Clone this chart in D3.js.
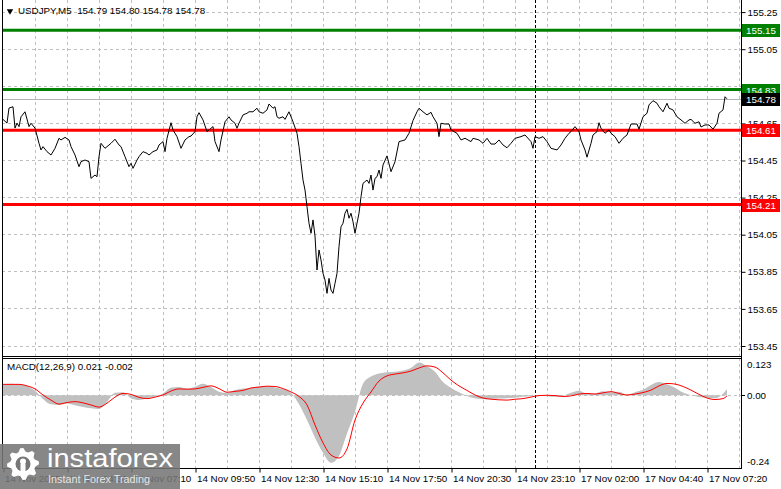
<!DOCTYPE html>
<html><head><meta charset="utf-8">
<script src="https://cdn.jsdelivr.net/npm/d3@7"></script>
<style>
html,body{margin:0;padding:0;background:#fff;}
svg{display:block;}
text{font-family:"Liberation Sans",Arial,sans-serif;}
</style></head>
<body>
<svg id="chart" width="781" height="489"></svg>
<script>
// ---------------- DATA ----------------
const symbolTitle = "USDJPY,M5  154.79 154.80 154.78 154.78";
const macdTitle = "MACD(12,26,9) 0.021 -0.002";

const timeLabels = ["14 Nov 2025","14 Nov 04:30","14 Nov 07:10","14 Nov 09:50","14 Nov 12:30","14 Nov 15:10","14 Nov 17:50","14 Nov 20:30","14 Nov 23:10","17 Nov 02:00","17 Nov 04:40","17 Nov 07:20"];
const labelBars = [0,32,64,96,128,160,192,224,256,288,320,352];
const gridStepBars = 16;
const daySeparatorBar = 266;

const priceTicks = [155.25,155.05,154.85,154.65,154.45,154.25,154.05,153.85,153.65,153.45];
const levelPrices = [155.15,154.83,154.61,154.21];
const levelKinds  = ["resistance","resistance","support","support"];
const lastPrice = 154.78;

const closeBars = [0,2,3,5,6,7,8,9,11,13,14,16,18,19,20,22,24,26,28,29,31,33,34,36,38,39,41,43,44,46,47,48,49,51,53,54,56,58,59,61,63,64,65,67,68,70,72,73,75,77,78,80,81,82,84,85,87,89,91,93,94,96,97,98,100,102,103,105,106,108,109,111,113,114,116,117,118,120,122,123,125,127,128,130,132,133,135,136,137,138,140,141,143,145,147,148,149,150,151,152,153,154,155,156,157,158,159,160,161,162,163,164,165,166,167,168,169,170,171,172,173,174,175,176,178,179,180,182,183,184,185,186,187,188,189,190,192,194,196,198,201,203,205,207,208,210,212,214,215,217,218,219,221,223,224,227,229,231,234,235,238,240,242,244,246,248,250,252,254,256,259,261,264,265,266,268,270,272,274,277,279,281,283,284,286,288,289,291,292,294,295,297,298,299,301,303,304,306,308,310,312,314,317,318,320,322,323,325,327,328,330,332,333,335,337,339,341,343,344,346,348,349,351,353,355,357,358,360,361,362];
const closes = [154.669,154.649,154.730,154.737,154.622,154.649,154.630,154.683,154.710,154.630,154.648,154.622,154.540,154.504,154.522,154.495,154.477,154.513,154.567,154.558,154.572,154.558,154.522,154.477,154.414,154.441,154.450,154.441,154.351,154.369,154.360,154.468,154.540,154.513,154.531,154.540,154.562,154.531,154.522,154.468,154.414,154.432,154.405,154.450,154.468,154.495,154.486,154.477,154.495,154.504,154.531,154.549,154.495,154.567,154.651,154.612,154.576,154.513,154.558,154.576,154.579,154.603,154.683,154.705,154.666,154.603,154.612,154.630,154.549,154.495,154.558,154.656,154.683,154.666,154.648,154.621,154.648,154.693,154.702,154.710,154.710,154.729,154.710,154.702,154.720,154.752,154.729,154.737,154.683,154.675,154.683,154.669,154.710,154.656,154.594,154.522,154.432,154.342,154.288,154.198,154.109,154.055,154.127,154.040,153.857,153.965,153.911,153.839,153.803,153.731,153.812,153.749,153.731,153.785,153.839,153.983,154.090,154.109,154.163,154.184,154.136,154.163,154.117,154.055,154.163,154.252,154.324,154.342,154.324,154.369,154.288,154.351,154.360,154.396,154.351,154.423,154.472,154.387,154.441,154.549,154.558,154.594,154.663,154.710,154.729,154.710,154.693,154.707,154.683,154.648,154.576,154.648,154.644,154.644,154.612,154.594,154.558,154.567,154.549,154.567,154.558,154.540,154.567,154.536,154.536,154.558,154.531,154.516,154.540,154.567,154.576,154.585,154.549,154.513,154.576,154.567,154.576,154.549,154.513,154.504,154.531,154.567,154.594,154.603,154.630,154.603,154.558,154.504,154.465,154.540,154.585,154.603,154.651,154.621,154.594,154.612,154.594,154.576,154.540,154.567,154.585,154.644,154.644,154.616,154.683,154.702,154.747,154.770,154.756,154.737,154.710,154.756,154.729,154.720,154.683,154.666,154.648,154.666,154.669,154.648,154.656,154.628,154.639,154.639,154.616,154.648,154.702,154.720,154.791,154.780];

const macdBars = d3.range(0, 361, 4).concat([362]);
const macdHist = [0.035,0.038,0.036,0.030,0.015,-0.012,-0.030,-0.032,-0.027,-0.033,
-0.039,-0.043,-0.045,-0.022,0.008,0.010,-0.010,-0.016,-0.010,-0.004,
0.006,0.025,0.027,0.022,0.028,0.038,0.027,0.012,0.008,0.017,
0.022,0.025,0.029,0.030,0.026,0.020,0.008,-0.030,-0.082,-0.140,
-0.190,-0.223,-0.200,-0.126,-0.055,0.038,0.062,0.072,0.076,0.078,
0.082,0.090,0.108,0.096,0.078,0.044,0.025,0.010,-0.002,-0.010,
-0.013,-0.012,-0.011,-0.010,-0.008,-0.005,-0.003,0.000,-0.003,-0.005,
-0.002,0.008,0.015,0.005,0.006,0.013,0.010,0.012,0.002,0.010,
0.018,0.034,0.044,0.036,0.025,0.009,0.000,-0.006,-0.009,-0.010,
0.005,0.021];
const macdSignal = [0.036,0.036,0.036,0.031,0.021,0.001,-0.016,-0.029,-0.024,-0.021,
-0.025,-0.032,-0.039,-0.026,-0.006,0.006,0.003,-0.007,-0.011,-0.006,
0.001,0.014,0.021,0.020,0.021,0.026,0.031,0.022,0.010,0.013,
0.016,0.024,0.027,0.030,0.029,0.022,0.011,-0.004,-0.032,-0.098,
-0.157,-0.197,-0.207,-0.177,-0.082,-0.026,0.011,0.047,0.064,0.070,
0.074,0.080,0.090,0.097,0.093,0.074,0.050,0.031,0.016,0.001,
-0.009,-0.013,-0.015,-0.016,-0.013,-0.011,-0.006,-0.001,0.000,-0.001,
-0.004,-0.002,0.004,0.006,0.004,0.008,0.012,0.006,0.001,0.004,
0.009,0.017,0.031,0.039,0.037,0.029,0.017,0.003,-0.009,-0.014,
-0.011,-0.002];
const macdTicks = [0.123, 0.00, -0.24];

// ---------------- LAYOUT ----------------
const svg = d3.select("#chart");
const L = 2, R = 741;
const mainTop = 0, mainBottom = 356;
const macdTop = 358, macdBottom = 468;
const x = d3.scaleLinear().domain([0, 369]).range([3, 741]);
const y = d3.scaleLinear().domain([153.45, 155.25]).range([345.5, 11.6]);
const ym = d3.scaleLinear().domain([-0.24, 0.123]).range([macdBottom, macdTop]);
const gridColor = "#c0c0c0";
const fontSize = 9.8;
const kindColor = {resistance: "#008000", support: "#ff0000"};

svg.append("rect").attr("width",781).attr("height",489).attr("fill","#fff");

svg.append("clipPath").attr("id","cmain").append("rect")
  .attr("x",L).attr("y",mainTop).attr("width",R-L).attr("height",mainBottom-mainTop);
svg.append("clipPath").attr("id","cmacd").append("rect")
  .attr("x",L).attr("y",macdTop).attr("width",R-L).attr("height",macdBottom-macdTop);

// vertical grid
const gridBars = d3.range(gridStepBars, 369, gridStepBars);
[[mainTop,mainBottom],[macdTop,macdBottom]].forEach(([t,b])=>{
  svg.append("g").selectAll("line").data(gridBars).join("line")
    .attr("x1",d=>Math.round(x(d))+0.5).attr("x2",d=>Math.round(x(d))+0.5)
    .attr("y1",t).attr("y2",b)
    .attr("stroke",gridColor).attr("stroke-dasharray","3,3");
});
svg.append("g").selectAll("line").data(priceTicks).join("line")
  .attr("x1",L).attr("x2",R).attr("y1",d=>Math.round(y(d))+0.5).attr("y2",d=>Math.round(y(d))+0.5)
  .attr("stroke",gridColor).attr("stroke-dasharray","3,3");
svg.append("line").attr("x1",L).attr("x2",R)
  .attr("y1",Math.round(ym(0))+0.5).attr("y2",Math.round(ym(0))+0.5)
  .attr("stroke",gridColor).attr("stroke-dasharray","3,3");

// day separator
svg.append("line").attr("x1",Math.round(x(daySeparatorBar))+0.5).attr("x2",Math.round(x(daySeparatorBar))+0.5)
  .attr("y1",mainTop).attr("y2",macdBottom)
  .attr("stroke","#000").attr("stroke-dasharray","3,2");

// last price line
svg.append("line").attr("x1",L).attr("x2",R)
  .attr("y1",Math.round(y(lastPrice))+0.5).attr("y2",Math.round(y(lastPrice))+0.5)
  .attr("stroke","#b4b4b4").attr("stroke-width",1);

const gMain = svg.append("g").attr("clip-path","url(#cmain)");
gMain.selectAll("line.level").data(levelPrices).join("line").attr("class","level")
  .attr("x1",L).attr("x2",R).attr("y1",d=>y(d)).attr("y2",d=>y(d))
  .attr("stroke",(d,i)=>kindColor[levelKinds[i]]).attr("stroke-width",3);

const pts = closeBars.map((b,i)=>[b, closes[i]]);
gMain.append("path").datum(pts)
  .attr("d", d3.line().x(d=>x(d[0])).y(d=>y(d[1])))
  .attr("fill","none").attr("stroke","#000").attr("stroke-width",1);

// MACD histogram as filled area
const gMacd = svg.append("g").attr("clip-path","url(#cmacd)");
gMacd.append("path").datum(macdBars.map((b,i)=>[b, macdHist[i]]))
  .attr("d", d3.area().x(d=>x(d[0])).y0(ym(0)).y1(d=>ym(d[1])).curve(d3.curveMonotoneX))
  .attr("fill","#c0c0c0");
gMacd.append("path").datum(macdBars.map((b,i)=>[b, macdSignal[i]]))
  .attr("d", d3.line().x(d=>x(d[0])).y(d=>ym(d[1])).curve(d3.curveMonotoneX))
  .attr("fill","none").attr("stroke","#ff0000").attr("stroke-width",1);

// borders
const border = svg.append("g").attr("stroke","#000").attr("stroke-width",1).attr("fill","none");
border.append("line").attr("x1",L+0.5).attr("x2",L+0.5).attr("y1",0).attr("y2",macdBottom);
border.append("line").attr("x1",R+0.5).attr("x2",R+0.5).attr("y1",0).attr("y2",macdBottom+0.5);
border.append("line").attr("x1",L).attr("x2",R).attr("y1",mainBottom+0.5).attr("y2",mainBottom+0.5);
border.append("line").attr("x1",L).attr("x2",R).attr("y1",macdTop+0.5).attr("y2",macdTop+0.5);
border.append("line").attr("x1",L).attr("x2",R+1).attr("y1",macdBottom+0.5).attr("y2",macdBottom+0.5);

// price axis
const pAxis = svg.append("g").attr("transform",`translate(${R+0.5},0.5)`)
  .call(d3.axisRight(y).tickValues(priceTicks).tickFormat(d3.format(".2f")).tickSize(4).tickPadding(2));
pAxis.select(".domain").remove();
pAxis.selectAll("text").attr("font-size",fontSize).attr("font-family","Liberation Sans, Arial").attr("fill","#000");

// level labels
const boxH = 13;
const labelData = levelPrices.map((p,i)=>({p, c:kindColor[levelKinds[i]]})).concat([{p:lastPrice, c:"#000"}]);
const lg = svg.append("g");
labelData.forEach(d=>{
  const yy = Math.round(y(d.p));
  lg.append("rect").attr("x",R+1).attr("y",yy-6).attr("width",38).attr("height",boxH).attr("fill",d.c);
  lg.append("text").attr("x",R+5).attr("y",yy+4).attr("fill","#fff")
    .attr("font-size",fontSize).text(d3.format(".2f")(d.p));
});

// macd axis
macdTicks.forEach((v,i)=>{
  let yy = ym(v);
  let ty = yy + 4;
  if (i===0) ty = yy + 10;
  if (i===macdTicks.length-1) ty = yy - 3;
  if (v===0) svg.append("line").attr("x1",R).attr("x2",R+4).attr("y1",Math.round(yy)+0.5).attr("y2",Math.round(yy)+0.5).attr("stroke","#000");
  svg.append("text").attr("x",R+6).attr("y",ty).attr("font-size",fontSize).attr("fill","#000")
    .text(v===0 ? "0.00" : (Math.abs(v)>=0.1 && String(v).length>5 ? d3.format(".3f")(v) : String(v)));
});

// time axis
const tAxis = svg.append("g").attr("transform",`translate(0.5,${macdBottom+0.5})`)
  .call(d3.axisBottom(x).tickValues(labelBars).tickFormat((d,i)=>timeLabels[i]).tickSize(4).tickPadding(3));
tAxis.select(".domain").remove();
tAxis.selectAll("text").attr("text-anchor","start").attr("dx",1)
  .attr("font-size",fontSize).attr("font-family","Liberation Sans, Arial").attr("fill","#000");

// titles
svg.append("path").attr("d",d3.symbol().type(d3.symbolTriangle).size(18)())
  .attr("transform","translate(10,11) rotate(180)").attr("fill","#000");
svg.append("text").attr("x",18).attr("y",14).attr("font-size",fontSize).attr("fill","#000")
  .attr("xml:space","preserve").text(symbolTitle);
svg.append("text").attr("x",7).attr("y",370).attr("font-size",fontSize).attr("fill","#000").text(macdTitle);

// watermark
const wm = svg.append("g");
wm.append("rect").attr("x",0).attr("y",444).attr("width",180).attr("height",45)
  .attr("fill","rgb(118,118,118)").attr("opacity",0.88);
const cx = 23, cy = 464, teeth = 8;
const gearPts = [];
d3.range(teeth*4).forEach(k=>{
  const a = k/(teeth*4)*2*Math.PI;
  const r = (k%4===0||k%4===1) ? 16 : 12.5;
  gearPts.push([cx+r*Math.cos(a), cy+r*Math.sin(a)]);
});
wm.append("path").attr("d", d3.line().curve(d3.curveLinearClosed)(gearPts)).attr("fill","#fff").attr("transform",`rotate(-10,${cx},${cy})`);
wm.append("circle").attr("cx",cx).attr("cy",cy).attr("r",7.5).attr("fill","rgb(118,118,118)");
wm.append("circle").attr("cx",cx).attr("cy",cy-2.5).attr("r",3).attr("fill","#fff");
wm.append("rect").attr("x",cx-2.5).attr("y",cy).attr("width",5).attr("height",10).attr("fill","#fff");
wm.append("text").attr("x",47).attr("y",467).attr("font-size",26).attr("fill","#fff")
  .attr("font-family","Open Sans, Lato, sans-serif")
  .attr("textLength",126).attr("lengthAdjust","spacingAndGlyphs").text("instaforex");
wm.append("text").attr("x",48).attr("y",483).attr("font-size",11.5).attr("fill","#e6e6e6")
  .attr("font-family","Open Sans, Lato, sans-serif")
  .attr("textLength",102).attr("lengthAdjust","spacingAndGlyphs").text("Instant Forex Trading");
</script>
</body></html>
